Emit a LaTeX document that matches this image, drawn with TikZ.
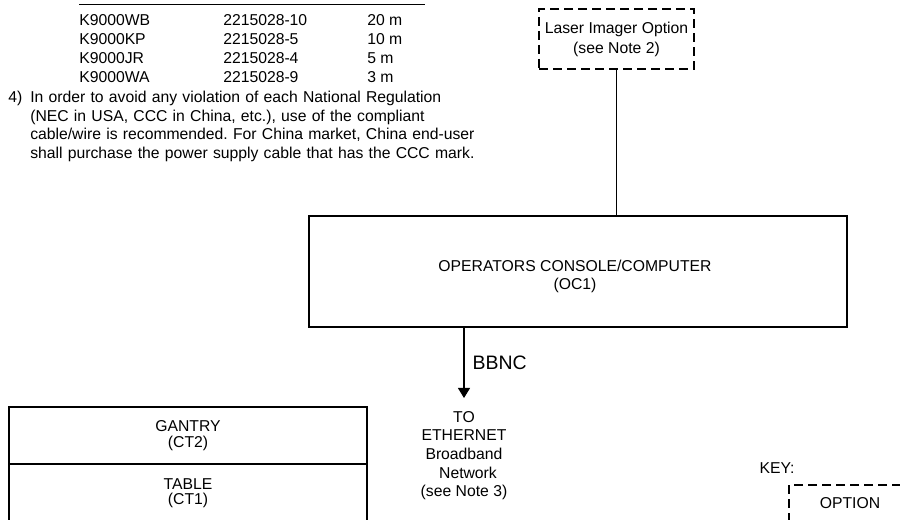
\documentclass[tikz,border=0pt]{standalone}
\usepackage{fontspec}
\setmainfont{Liberation Sans}
\usetikzlibrary{arrows.meta}
\tikzset{
  box/.style={draw, line width=1.5pt, inner sep=0pt, outer sep=0pt, align=center},
  optbox/.style={draw, line width=1.5pt, dash pattern=on 6.75pt off 3.75pt, inner sep=0pt, outer sep=0pt, align=center},
  cell/.style={anchor=base west, inner sep=0pt},
  wire/.style={line width=0.8pt}
}
\frenchspacing
\begin{document}
\begin{tikzpicture}[x=0.75pt, y=-0.75pt, font=\fontsize{11.8}{14}\selectfont]
\clip (0,0) rectangle (900,520);

% cable table, cut at the top
\draw[wire] (79,4.5) -- (425,4.5);
\foreach \pn/\pc/\pl [count=\i] in {K9000WB/2215028-10/20 m, K9000KP/2215028-5/10 m, K9000JR/2215028-4/5 m, K9000WA/2215028-9/3 m} {
  \node[cell] (part\i) at (79,{6.6+19*\i}) {\pn};
  \node[cell] (code\i) at (223,{6.6+19*\i}) {\pc};
  \node[cell] (len\i) at (367,{6.6+19*\i}) {\pl};
}
\node[cell] (n4) at (8,102.6) {4)};
\node[cell, text width=420pt, align=left, font=\fontsize{11.8}{13.9}\selectfont] (note4) at (30,102.6)
  {In order to avoid any violation of each National Regulation\\
   (NEC in USA, CCC in China, etc.), use of the compliant\\
   cable/wire is recommended. For China market, China end-user\\
   shall purchase the power supply cable that has the CCC mark.};

\node[optbox, minimum width=116.25pt, minimum height=45pt, font=\fontsize{11.8}{15}\selectfont] (laser) at (616.5,39)
  {Laser Imager Option\\(see Note 2)};

\node[box, minimum width=403.5pt, minimum height=83.25pt] (oc1) at (578,271.5) {};
\node[align=center, inner sep=0pt] (oc1text) at (575,276.5)
  {\fontsize{11.8}{12.75}\selectfont OPERATORS CONSOLE/COMPUTER\\(OC1)};
\draw[wire] (laser.south) -- (laser.south |- oc1.north);

\node[align=center, inner sep=0pt] (eth) at (464,455.5)
  {TO\\ETHERNET\\Broadband\\\hspace*{6pt}Network\\(see Note 3)};
\coordinate (bbncend) at (464,398);
\draw[wire, -{Triangle[width=9pt,length=7.5pt]}] (oc1.south -| bbncend) --
  node[anchor=west, inner sep=0pt, xshift=6pt, font=\fontsize{14.6}{16}\selectfont] (bbnc) {BBNC} (bbncend);

\node[box, minimum width=268.5pt, minimum height=42.75pt, font=\fontsize{11.8}{11.6}\selectfont] (gantry) at (188,435.5)
  {GANTRY\\(CT2)};
\node[box, minimum width=268.5pt, minimum height=43.5pt, anchor=north, font=\fontsize{11.8}{11.6}\selectfont] (table) at (gantry.south)
  {TABLE\\(CT1)};

\node[inner sep=0pt] (key) at (777,468) {KEY:};
\node[optbox, anchor=north west, minimum width=91.5pt, minimum height=27pt] (opt) at (789,485) {OPTION};
\end{tikzpicture}
\end{document}
